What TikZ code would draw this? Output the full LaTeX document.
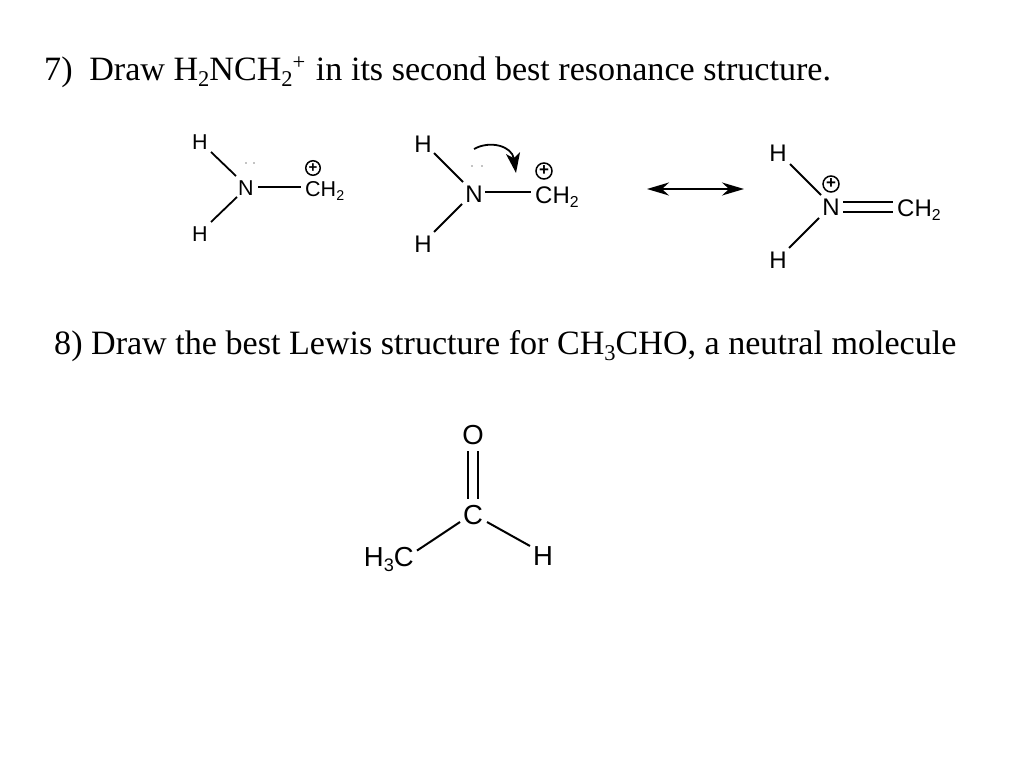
\documentclass[tikz,border=0pt]{standalone}
\usepackage{fontspec}
\setmainfont{Liberation Serif}
\newfontfamily\chemfont{Liberation Sans}
\usetikzlibrary{arrows.meta}
\newcommand{\sbs}[1]{\raisebox{-.2em}{\scalebox{.66}{#1}}}
\newcommand{\sps}[1]{\raisebox{.3em}{\scalebox{.66}{#1}}}
\newcommand{\fs}[1]{\fontsize{#1}{#1}\selectfont}
\tikzset{
  x=1pt,y=-1pt,
  title/.style={anchor=base west,inner sep=0pt,font=\fs{34.1}},
  atom/.style={inner sep=0pt,font=\chemfont\fs{#1}},
  bond/.style={line width=#1,black},
  chg/.style={circle,draw,line width=1.5pt,inner sep=0pt,minimum size=#1},
  lp/.style={circle,fill=black,inner sep=0pt,minimum size=1.2pt},
  reso/.style={line width=1.8pt,{Stealth[length=22pt,width=13pt,inset=7pt]}-{Stealth[length=22pt,width=13pt,inset=7pt]}},
  curly/.style={line width=1.8pt,-{Stealth[length=20pt,width=14pt,inset=5pt]}}
}
\begin{document}
\begin{tikzpicture}
\useasboundingbox (0,0) rectangle (1024,768);
\node[title] (t7) at (44,80) {7)\hspace{.24em} Draw H\sbs{2}NCH\sbs{2}\sps{+}\hspace{.06em} in its second best resonance structure.};
\node[title] (t8) at (54,354) {8) Draw the best Lewis structure for CH\sbs{3}CHO, a neutral molecule};

% molecule 1
\node[atom=21.5] (n1) at (246,188) {N};
\node[atom=21.5] (h1a) at (200,142) {H};
\node[atom=21.5] (h1b) at (200,234) {H};
\node[atom=21.5,anchor=base west] (c1) at (305,196) {CH\sbs{2}};
\node[chg=14.5pt] (p1) at (313,168) {};
\node[atom=15] at (p1) {\textbf{+}};
\node[lp] (d1a) at (246,163) {};
\node[lp] (d1b) at (254,163) {};
\draw[bond=1.8pt] ([shift={(11,10)}]h1a.center) -- ([shift={(-10,-12)}]n1.center);
\draw[bond=1.8pt] ([shift={(11,-12)}]h1b.center) -- ([shift={(-9,9)}]n1.center);
\draw[bond=1.8pt] ([shift={(12,-1)}]n1.center) -- ([shift={(-4,-1)}]n1.center -| c1.west);

% molecule 2
\node[atom=24] (n2) at (474,194) {N};
\node[atom=24] (h2a) at (423,144) {H};
\node[atom=24] (h2b) at (423,244) {H};
\node[atom=24,anchor=base west] (c2) at (535,203) {CH\sbs{2}};
\node[chg=16pt] (p2) at (544,171) {};
\node[atom=17] at (p2) {\textbf{+}};
\node[lp] (d2a) at (472,166) {};
\node[lp] (d2b) at (482,166) {};
\draw[bond=1.9pt] ([shift={(11,9)}]h2a.center) -- ([shift={(-11,-12)}]n2.center);
\draw[bond=1.9pt] ([shift={(11,-12)}]h2b.center) -- ([shift={(-12,10)}]n2.center);
\draw[bond=1.9pt] ([shift={(11,-2)}]n2.center) -- ([shift={(-4,-2)}]n2.center -| c2.west);
\coordinate (a1) at (474,149);
\coordinate (a2) at (516,173);
\draw[curly] (a1) .. controls (490,140) and (512,146) .. (a2);

% resonance arrow
\coordinate (r1) at (647,189);
\coordinate (r2) at (744,189);
\draw[reso] (r1) -- (r2);

% molecule 3
\node[atom=24] (n3) at (831,207) {N};
\node[atom=24] (h3a) at (778,153) {H};
\node[atom=24] (h3b) at (778,260) {H};
\node[atom=24,anchor=base west] (c3) at (897,216) {CH\sbs{2}};
\node[chg=16pt] (p3) at (831,184) {};
\node[atom=17] at (p3) {\textbf{+}};
\draw[bond=1.9pt] ([shift={(12,11)}]h3a.center) -- ([shift={(-10,-12)}]n3.center);
\draw[bond=1.9pt] ([shift={(11,-12)}]h3b.center) -- ([shift={(-12,11)}]n3.center);
\draw[bond=1.9pt] ([shift={(12,-5)}]n3.center) -- ([shift={(-4,-5)}]n3.center -| c3.west);
\draw[bond=1.9pt] ([shift={(12,5)}]n3.center) -- ([shift={(-4,5)}]n3.center -| c3.west);

% molecule 4
\node[atom=27.5] (o4) at (473,435) {O};
\node[atom=27.5] (c4) at (473,515) {C};
\node[atom=27.5,anchor=base east] (m4) at (414,566) {H\sbs{3}C};
\node[atom=27.5] (h4) at (543,556) {H};
\draw[bond=2pt] ([shift={(-5,16)}]o4.center) -- ([shift={(-5,-16)}]c4.center);
\draw[bond=2pt] ([shift={(5,16)}]o4.center) -- ([shift={(5,-16)}]c4.center);
\draw[bond=2pt] ([shift={(-13,7)}]c4.center) -- ([shift={(3,4)}]m4.north east);
\draw[bond=2pt] ([shift={(14,7)}]c4.center) -- ([shift={(-13,-10)}]h4.center);
\end{tikzpicture}
\end{document}
